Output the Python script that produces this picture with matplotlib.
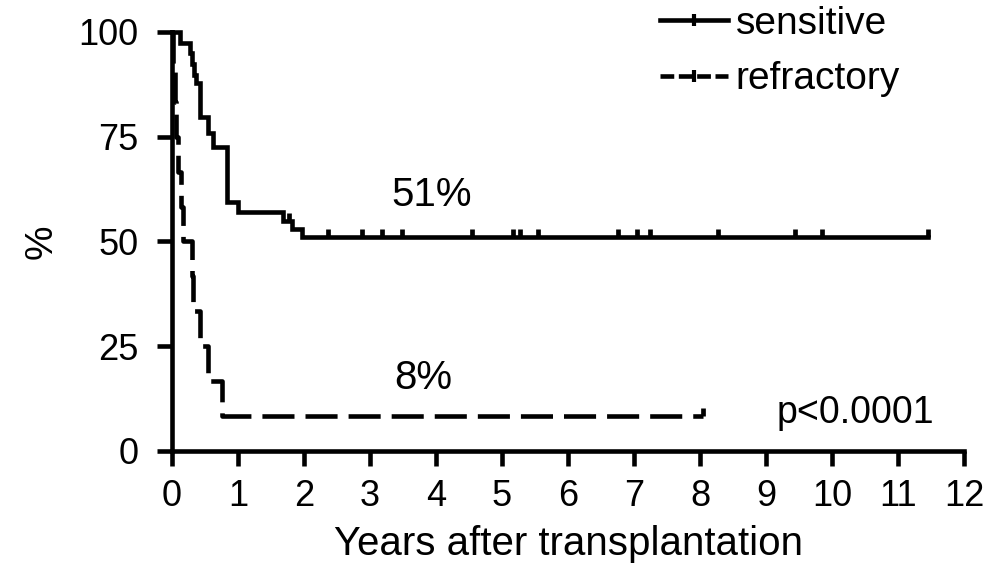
import matplotlib
matplotlib.use("Agg")
import matplotlib.pyplot as plt
from matplotlib.lines import Line2D
import numpy as np

plt.rcParams["font.family"] = ["Liberation Sans", "DejaVu Sans"]

# Kaplan-Meier steps (years, % surviving)
sens_times = [0.0, 0.12, 0.27, 0.30, 0.33, 0.36, 0.42, 0.55, 0.62, 0.83, 1.00, 1.68, 1.82, 1.97]
sens_surv = [100.0, 97.4, 94.9, 92.3, 89.7, 87.8, 79.7, 75.9, 72.6, 59.4, 57.0, 55.0, 53.0, 51.0]
sens_end = 11.45
sens_censored = [1.78, 2.36, 2.88, 3.18, 3.48, 4.55, 5.17, 5.27, 5.55, 6.76, 7.05,
                 7.24, 8.27, 9.44, 9.85, 11.45]

refr_times = [0.0, 0.02, 0.04, 0.06, 0.09, 0.13, 0.17, 0.30, 0.32, 0.43, 0.55, 0.76]
refr_surv = [100.0, 91.7, 83.3, 75.0, 66.7, 58.3, 50.0, 41.7, 33.3, 25.0, 16.7, 8.3]
refr_end = 8.05
refr_censored = [8.05]

x_ticks = list(range(0, 13))
y_ticks = [0, 25, 50, 75, 100]
labels = ["sensitive", "refractory"]

LW = 3.3
DASH = (7.0, 2.4)
FS = 26


def surv_at(times, surv, t):
    idx = np.searchsorted(times, t, side="right") - 1
    return surv[idx]


def draw_curve(ax, times, surv, end, censored, **style):
    xs = list(times) + [end]
    ys = list(surv) + [surv[-1]]
    ax.step(xs, ys, where="post", color="black", lw=LW, clip_on=False,
            solid_joinstyle="miter", **style)
    cy = [surv_at(times, surv, t) for t in censored]
    ax.vlines(censored, cy, [y + 1.9 for y in cy], color="black", lw=3.4, clip_on=False)


fig = plt.figure(figsize=(10.07, 5.65), dpi=100)
ax = fig.add_axes([172 / 1007, 1 - 451 / 565, (964 - 172) / 1007, (451 - 32) / 565])

draw_curve(ax, sens_times, sens_surv, sens_end, sens_censored, linestyle="-")
draw_curve(ax, refr_times, refr_surv, refr_end, refr_censored, linestyle=(0, DASH))

ax.set_xlim(0, 12)
ax.set_ylim(0, 100)
ax.set_xticks(x_ticks)
ax.set_yticks(y_ticks)
ax.tick_params(axis="both", direction="out", length=11, width=LW, labelsize=FS)
ax.tick_params(axis="y", pad=13)
ax.tick_params(axis="x", pad=9)
for side in ["top", "right"]:
    ax.spines[side].set_visible(False)
for side in ["left", "bottom"]:
    ax.spines[side].set_linewidth(LW)
    ax.spines[side].set_capstyle("projecting")

ax.set_xlabel("Years after transplantation", fontsize=29, labelpad=8)
ax.set_ylabel("%", fontsize=28, rotation=90)
ax.yaxis.set_label_coords((60 - 172) / 792, 0.5)

ax.text(3.94, 61, "51%", fontsize=29, ha="center", va="center")
ax.text(3.8, 17.4, "8%", fontsize=29, ha="center", va="center")
ax.text(10.35, 9.0, "p<0.0001", fontsize=27, ha="center", va="center")

handles = [
    Line2D([], [], color="black", lw=LW, linestyle="-", marker="|",
           markersize=9, markeredgewidth=3),
    Line2D([], [], color="black", lw=LW, linestyle=(0, (3.0, 1.0)), marker="|",
           markersize=9, markeredgewidth=3),
]
ax.legend(handles, labels, loc="upper left", bbox_to_anchor=(660 / 1007, 1 - 6 / 565),
          bbox_transform=fig.transFigure, frameon=False, borderpad=0, borderaxespad=0,
          handlelength=1.75, handletextpad=0.2, labelspacing=0.5, fontsize=28)

fig.savefig("out.png", dpi=100)
